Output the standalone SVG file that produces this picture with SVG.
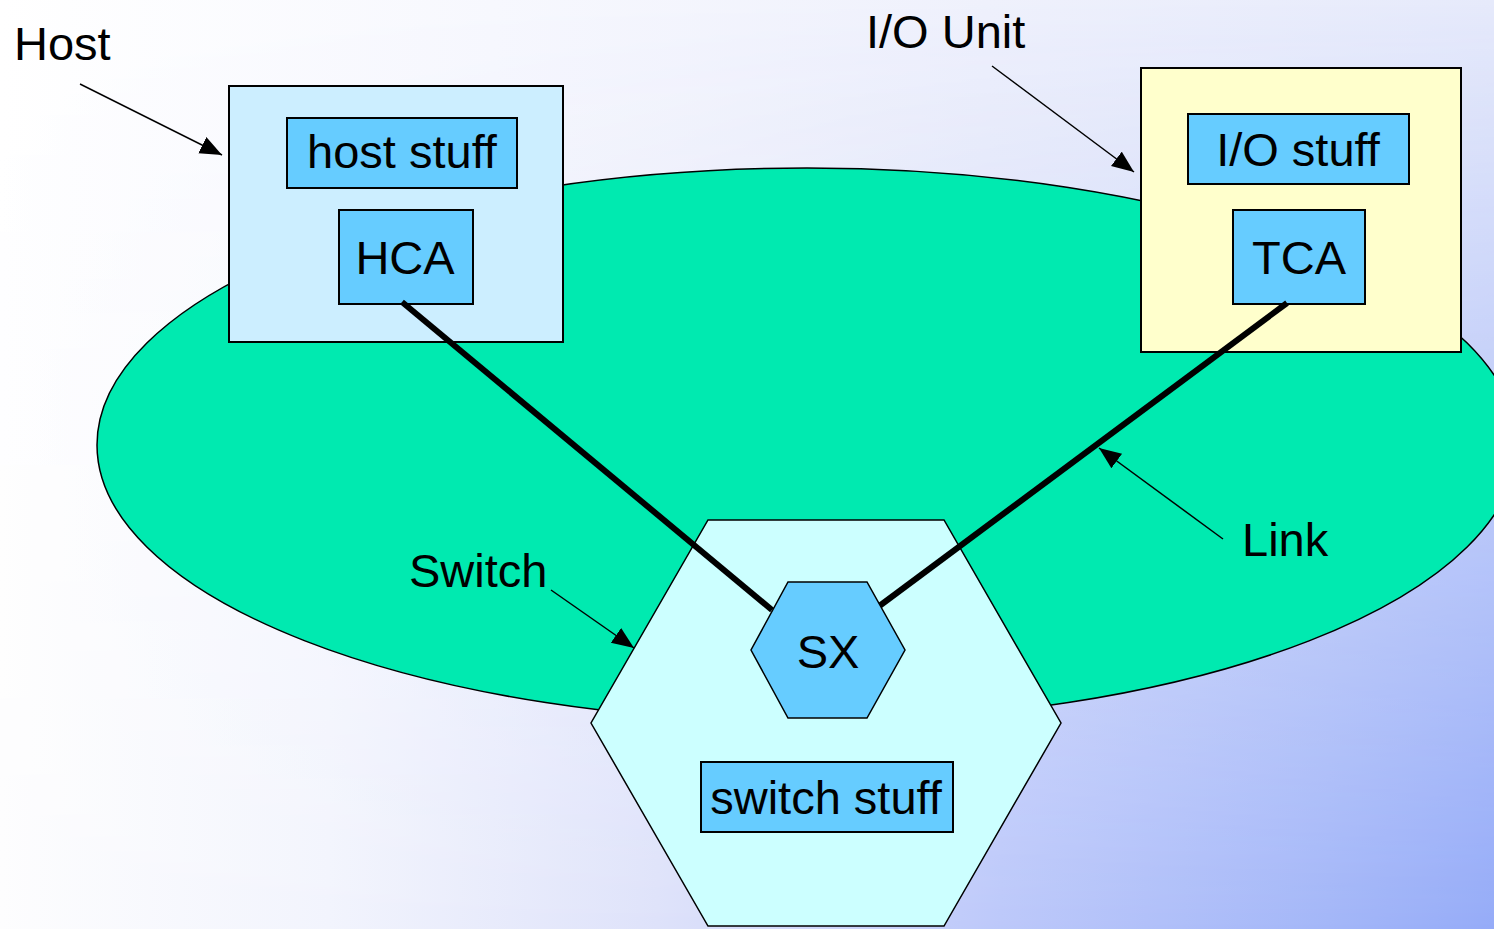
<svg xmlns="http://www.w3.org/2000/svg" width="1494" height="929" viewBox="0 0 1494 929">
  <defs>
    <!-- backdrop: colour along the top edge and along the bottom edge, blended top to bottom -->
    <linearGradient id="bgTop" x1="0" y1="0" x2="1" y2="0">
      <stop offset="0" stop-color="#ffffff"/>
      <stop offset="0.33" stop-color="#f7f8fe"/>
      <stop offset="0.66" stop-color="#eff1fc"/>
      <stop offset="1" stop-color="#e6eafb"/>
    </linearGradient>
    <linearGradient id="bgBottom" x1="0" y1="0" x2="1" y2="0">
      <stop offset="0" stop-color="#fdfdfe"/>
      <stop offset="0.22" stop-color="#f2f4fd"/>
      <stop offset="0.44" stop-color="#dee2fa"/>
      <stop offset="0.67" stop-color="#bcc8fa"/>
      <stop offset="0.89" stop-color="#a3b6f8"/>
      <stop offset="1" stop-color="#95abf8"/>
    </linearGradient>
    <linearGradient id="fadeIn" x1="0" y1="0" x2="0" y2="1">
      <stop offset="0" stop-color="#ffffff" stop-opacity="0"/>
      <stop offset="1" stop-color="#ffffff" stop-opacity="1"/>
    </linearGradient>
    <mask id="downFade" maskUnits="userSpaceOnUse" x="0" y="0" width="1494" height="929">
      <rect x="0" y="0" width="1494" height="929" fill="url(#fadeIn)"/>
    </mask>
    <marker id="arrow" markerUnits="userSpaceOnUse" markerWidth="24" markerHeight="20" refX="22" refY="9" orient="auto">
      <path d="M0,0 L22,9 L0,18 Z" fill="#000"/>
    </marker>
    <style>
      text { font-family: "Liberation Sans", Arial, sans-serif; font-size: 47px; fill: #000; }
      .mid { text-anchor: middle; }
      .box { stroke: #000; stroke-width: 2; }
      .inner { fill: #66ccff; stroke: #000; stroke-width: 2; }
      .link { stroke: #000; stroke-width: 6; fill: none; }
      .pointer { stroke: #000; stroke-width: 1.5; fill: none; marker-end: url(#arrow); }
    </style>
  </defs>

  <!-- background -->
  <rect x="0" y="0" width="1494" height="929" fill="url(#bgTop)"/>
  <rect x="0" y="0" width="1494" height="929" fill="url(#bgBottom)" mask="url(#downFade)"/>

  <!-- fabric -->
  <g id="fabric">
    <ellipse cx="807" cy="445" rx="710" ry="277" fill="#00eab0" stroke="#000" stroke-width="1.5"/>
  </g>

  <!-- switch -->
  <g id="switch">
    <polygon points="708,520 944,520 1061,723 944,926 708,926 591,723" fill="#ccffff" stroke="#000" stroke-width="1.5"/>
    <rect class="inner" x="701" y="762" width="252" height="70"/>
    <text class="mid" x="826" y="814">switch stuff</text>
  </g>

  <!-- host -->
  <g id="host">
    <rect class="box" x="229" y="86" width="334" height="256" fill="#cceeff"/>
    <rect class="inner" x="287" y="118" width="230" height="70"/>
    <text class="mid" x="402" y="168">host stuff</text>
  </g>
  <g id="hca">
    <rect class="inner" x="339" y="210" width="134" height="94"/>
    <text class="mid" x="405" y="274">HCA</text>
  </g>

  <!-- I/O unit -->
  <g id="io-unit">
    <rect class="box" x="1141" y="68" width="320" height="284" fill="#ffffcc"/>
    <rect class="inner" x="1188" y="114" width="221" height="70"/>
    <text class="mid" x="1298" y="166">I/O stuff</text>
  </g>
  <g id="tca">
    <rect class="inner" x="1233" y="210" width="132" height="94"/>
    <text class="mid" x="1299" y="274">TCA</text>
  </g>

  <!-- links -->
  <g id="connectors">
    <line class="link" x1="402" y1="302" x2="772" y2="610"/>
    <line class="link" x1="1287" y1="303" x2="878" y2="607"/>
  </g>

  <!-- switch element -->
  <g id="sx">
    <polygon points="788,582 867,582 905,650 867,718 788,718 751,650" fill="#66ccff" stroke="#000" stroke-width="1.5"/>
    <text class="mid" x="828" y="668">SX</text>
  </g>

  <!-- callouts -->
  <g id="callouts">
    <line class="pointer" x1="80" y1="84" x2="222" y2="155"/>
    <line class="pointer" x1="992" y1="66" x2="1134" y2="172"/>
    <line class="pointer" x1="1223" y1="539" x2="1099" y2="448"/>
    <line class="pointer" x1="551" y1="590" x2="634" y2="648"/>
    <text x="14" y="60">Host</text>
    <text x="866" y="48">I/O Unit</text>
    <text x="409" y="587">Switch</text>
    <text x="1242" y="556">Link</text>
  </g>
</svg>
